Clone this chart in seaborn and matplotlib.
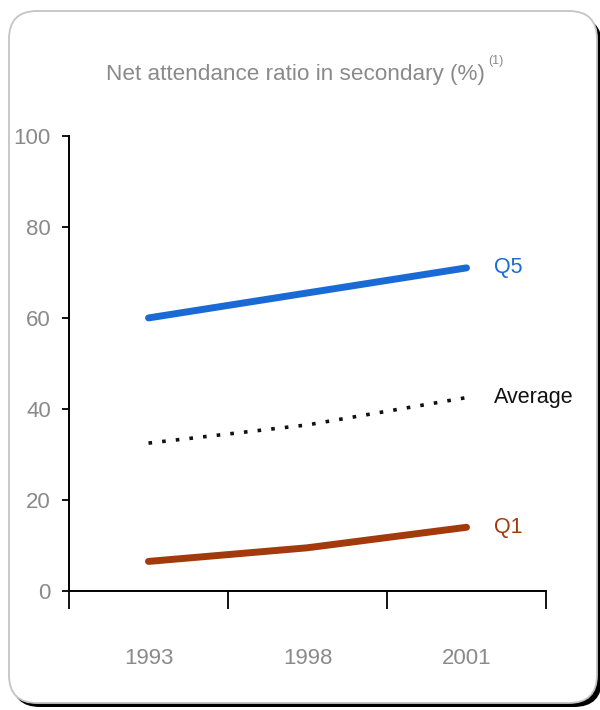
import numpy as np
import pandas as pd
import matplotlib
matplotlib.use("Agg")
import matplotlib.pyplot as plt
import seaborn as sns
from matplotlib.patches import FancyBboxPatch
from matplotlib.transforms import IdentityTransform

# data
years = ["1993", "1998", "2001"]
q5 = [60.0, 65.5, 71.0]
average = [32.5, 36.5, 42.5]
q1 = [6.5, 9.5, 14.0]
series_names = ["Q5", "Average", "Q1"]
series_colors = ["#1a6ad6", "#111111", "#a23a0c"]
y_ticks = [0, 20, 40, 60, 80, 100]

sns.set_style("white")
plt.rcParams["font.family"] = ["Liberation Sans", "DejaVu Sans"]

fig = plt.figure(figsize=(6, 7.1), dpi=100)

# rounded frame with dark shadow on bottom/right
shadow = FancyBboxPatch((12, 3), 590, 690, boxstyle="round,pad=0,rounding_size=28",
                        transform=IdentityTransform(), facecolor="black",
                        edgecolor="black", lw=0, zorder=-2)
frame = FancyBboxPatch((9, 7), 588, 692, boxstyle="round,pad=0,rounding_size=28",
                       transform=IdentityTransform(), facecolor="white",
                       edgecolor="#c4c4c4", lw=1.3, zorder=-1)
fig.patches.extend([shadow, frame])

ax = fig.add_axes([0.115, 0.1676, 0.795, 0.641])
ax.patch.set_alpha(0)

df = pd.DataFrame({
    "pos": np.tile(np.arange(len(years)), 3),
    "value": q5 + average + q1,
    "group": np.repeat(series_names, len(years)),
})

styles = {"Q5": "-", "Average": (0, (1, 2.8)), "Q1": "-"}
widths = {"Q5": 5, "Average": 2.6, "Q1": 5}
for name, color in zip(series_names, series_colors):
    sub = df[df["group"] == name]
    sns.lineplot(data=sub, x="pos", y="value", ax=ax, color=color,
                 lw=widths[name], linestyle=styles[name],
                 solid_capstyle="round", legend=False)
    last = sub.iloc[-1]
    ax.annotate(name, (last["pos"], last["value"]), xytext=(20, 0),
                textcoords="offset points", va="center", ha="left",
                fontsize=15.5, color=color)

ax.set_xlim(-0.5, len(years) - 0.5)
ax.set_ylim(0, 100)
ax.set_xticks(np.arange(-0.5, len(years)))
ax.set_xticklabels([])
ax.set_xticks(np.arange(len(years)), minor=True)
ax.set_xticklabels(years, minor=True)
ax.set_yticks(y_ticks)
ax.set_yticklabels([str(t) for t in y_ticks])
ax.set_xlabel("")
ax.set_ylabel("")

sns.despine(ax=ax)
for side in ["left", "bottom"]:
    ax.spines[side].set_color("black")
    ax.spines[side].set_linewidth(1.4)

ax.tick_params(axis="x", which="major", direction="out", length=13, width=1.3,
               color="black", bottom=True)
ax.tick_params(axis="x", which="minor", length=0, pad=41, labelsize=16,
               labelcolor="#8a8a8a")
ax.tick_params(axis="y", direction="out", length=5, width=1.3, color="black",
               left=True, pad=8, labelsize=16, labelcolor="#8a8a8a")

fig.text(0.492, 0.887, "Net attendance ratio in secondary (%)", ha="center",
         va="baseline", fontsize=16.2, color="#8a8a8a")
fig.text(0.813, 0.91, "(1)", ha="left", va="baseline", fontsize=9,
         color="#8a8a8a")

fig.savefig("out.png", dpi=100)
